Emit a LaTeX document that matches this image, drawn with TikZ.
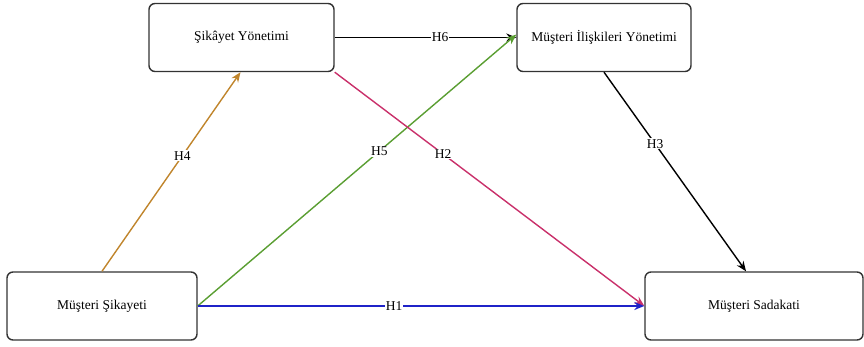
\documentclass[tikz,border=0pt]{standalone}
\usepackage{fontspec}
\setmainfont{Liberation Serif}
\usetikzlibrary{arrows.meta}
\definecolor{cH4}{HTML}{C0852C}
\definecolor{cH5}{HTML}{5A9E32}
\definecolor{cH2}{HTML}{C9306A}
\definecolor{cH1}{HTML}{1F23C8}
\definecolor{cbox}{HTML}{333333}
\tikzset{
  box/.style={draw=cbox, line width=1.4pt, rounded corners=6pt, fill=white, inner sep=0pt, font=\fontsize{13.5}{15}\selectfont},
  conn/.style={line width=1.4pt, -{Stealth[length=10pt,width=8pt]}},
  lbl/.style={fill=white, text=black, inner sep=1pt, font=\fontsize{13.5}{15}\selectfont}
}
\begin{document}
\begin{tikzpicture}[x=1pt,y=-1pt]
\useasboundingbox (0,0) rectangle (864,347);
\node[box, minimum width=185pt, minimum height=68pt] (sy) at (241.5,37.5) {Şikâyet Yönetimi};
\node[box, minimum width=174pt, minimum height=68pt] (mi) at (604,37.5) {Müşteri İlişkileri Yönetimi};
\node[box, minimum width=190pt, minimum height=68pt] (ms) at (102,306) {Müşteri Şikayeti};
\node[box, minimum width=218pt, minimum height=68pt] (msd) at (754,306) {Müşteri Sadakati};
\draw[conn, black] (sy.east) -- node[lbl, pos=0.58] {H6} (mi.west);
\draw[conn, cH4] (ms.north) -- node[lbl, pos=0.58] {H4} ([xshift=-1pt]sy.south);
\draw[conn, cH5] (ms.east) -- node[lbl, pos=0.57] {H5} ([yshift=3pt]mi.west);
\draw[conn, cH2] (sy.south east) -- node[lbl, pos=0.35] {H2} (msd.west);
\draw[conn, black] (mi.south) -- node[lbl, pos=0.36] {H3} ([xshift=-8pt]msd.north);
\draw[conn, cH1] (ms.east) -- node[lbl, pos=0.44] {H1} (msd.west);
\end{tikzpicture}
\end{document}
